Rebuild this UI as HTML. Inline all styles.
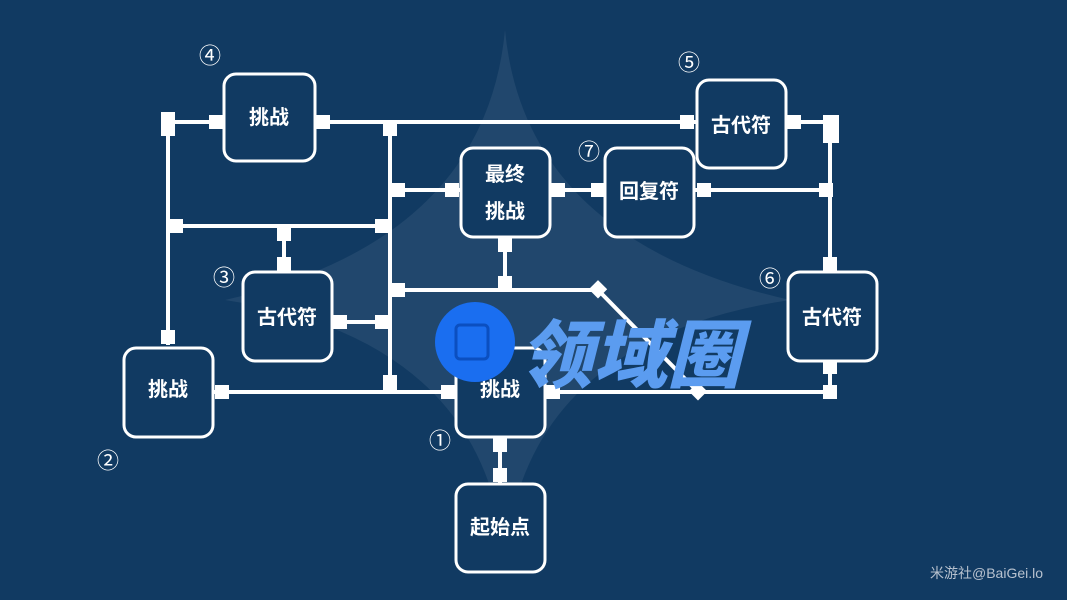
<!DOCTYPE html>
<html><head><meta charset="utf-8"><style>
html,body{margin:0;padding:0;background:#113a62;}
svg{display:block}
.t{font-family:"Liberation Sans","Noto Sans CJK SC",sans-serif;font-weight:bold;fill:#fff;font-size:20px;text-anchor:middle;dominant-baseline:central}
.n{font-family:"Liberation Sans","Noto Sans CJK SC",sans-serif;fill:#fff;font-size:22px;text-anchor:middle;dominant-baseline:central}
</style></head><body>
<svg width="1067" height="600" viewBox="0 0 1067 600" xmlns="http://www.w3.org/2000/svg">
<rect width="1067" height="600" fill="#113a62"/>
<path d="M505 30 Q525 240 790 300 Q525 340 505 560 Q485 340 225 300 Q485 240 505 30Z" fill="#ffffff" opacity="0.07"/>
<g stroke="#fff" stroke-width="4" fill="none">
<path d="M168 122H224M315 122H697M786 122H830V272M168 122V345M390 122V392M176 226H390M284 226V272M390 190H461M550 190H605M694 190H830M390 290H598L698 392M505 237V290M332 322H390M213 392H456M545 392H830V361M500 437V484"/>
</g>
<g fill="#fff">
<rect x="161" y="112" width="14" height="24"/><rect x="209" y="115" width="14" height="14"/><rect x="316" y="115" width="14" height="14"/><rect x="383" y="122" width="14" height="14"/>
<rect x="680" y="115" width="14" height="14"/><rect x="787" y="115" width="14" height="14"/><rect x="823" y="115" width="16" height="28"/>
<rect x="169" y="219" width="14" height="14"/><rect x="277" y="227" width="14" height="14"/><rect x="277" y="257" width="14" height="14"/><rect x="375" y="219" width="14" height="14"/>
<rect x="391" y="183" width="14" height="14"/><rect x="445" y="183" width="14" height="14"/><rect x="551" y="183" width="14" height="14"/><rect x="591" y="183" width="14" height="14"/><rect x="697" y="183" width="14" height="14"/><rect x="819" y="183" width="14" height="14"/>
<rect x="823" y="257" width="14" height="14"/><rect x="498" y="238" width="14" height="14"/><rect x="498" y="276" width="14" height="14"/><rect x="391" y="283" width="14" height="14"/>
<rect x="333" y="315" width="14" height="14"/><rect x="375" y="315" width="14" height="14"/><rect x="161" y="330" width="14" height="14"/>
<rect x="215" y="385" width="14" height="14"/><rect x="383" y="375" width="14" height="18"/><rect x="441" y="385" width="14" height="14"/><rect x="546" y="385" width="14" height="14"/><rect x="823" y="362" width="14" height="12"/><rect x="823" y="385" width="14" height="14"/>
<rect x="493" y="438" width="14" height="14"/><rect x="493" y="468" width="14" height="14"/>
<rect x="591" y="283" width="13" height="13" transform="rotate(45 598 290)"/><rect x="691" y="385" width="13" height="13" transform="rotate(45 698 392)"/>
</g>
<g stroke="#fff" stroke-width="3" fill="#113a62">
<rect x="224" y="74" width="91" height="87" rx="12"/>
<rect x="697" y="80" width="89" height="88" rx="12"/>
<rect x="461" y="148" width="89" height="89" rx="12"/>
<rect x="605" y="148" width="89" height="89" rx="12"/>
<rect x="243" y="272" width="89" height="89" rx="12"/>
<rect x="788" y="272" width="89" height="89" rx="12"/>
<rect x="124" y="348" width="89" height="89" rx="12"/>
<rect x="456" y="348" width="89" height="89" rx="12"/>
<rect x="456" y="484" width="89" height="88" rx="12"/>
</g>
<g class="t">
<text x="269" y="118" class="t">挑战</text>
<text x="741" y="126" class="t">古代符</text>
<text x="505" y="175" class="t">最终</text><text x="505" y="212" class="t">挑战</text>
<text x="649" y="192" class="t">回复符</text>
<text x="287" y="318" class="t">古代符</text>
<text x="832" y="318" class="t">古代符</text>
<text x="168" y="390" class="t">挑战</text>
<text x="500" y="390" class="t">挑战</text>
<text x="500" y="528" class="t">起始点</text>
</g>
<g class="n">
<text x="210" y="56" class="n">④</text><text x="689" y="63" class="n">⑤</text><text x="589" y="152" class="n">⑦</text>
<text x="224" y="278" class="n">③</text><text x="770" y="279" class="n">⑥</text><text x="440" y="441" class="n">①</text><text x="108" y="461" class="n">②</text>
</g>
<circle cx="475" cy="342" r="40" fill="#1a6ef0"/>
<rect x="456" y="325" width="32" height="34" rx="4" fill="none" stroke="#0b4fc0" stroke-width="3"/>
<text x="630" y="350" style="font-family:'Noto Sans CJK SC',sans-serif;font-weight:900;font-size:74px;font-style:italic;fill:#5b9cf0;text-anchor:middle;dominant-baseline:central">领域圈</text>
<text x="930" y="578" style="font-family:'Liberation Sans','Noto Sans CJK SC',sans-serif;font-size:14px;fill:#b8c2cf">米游社@BaiGei.lo</text>
</svg>
</body></html>
